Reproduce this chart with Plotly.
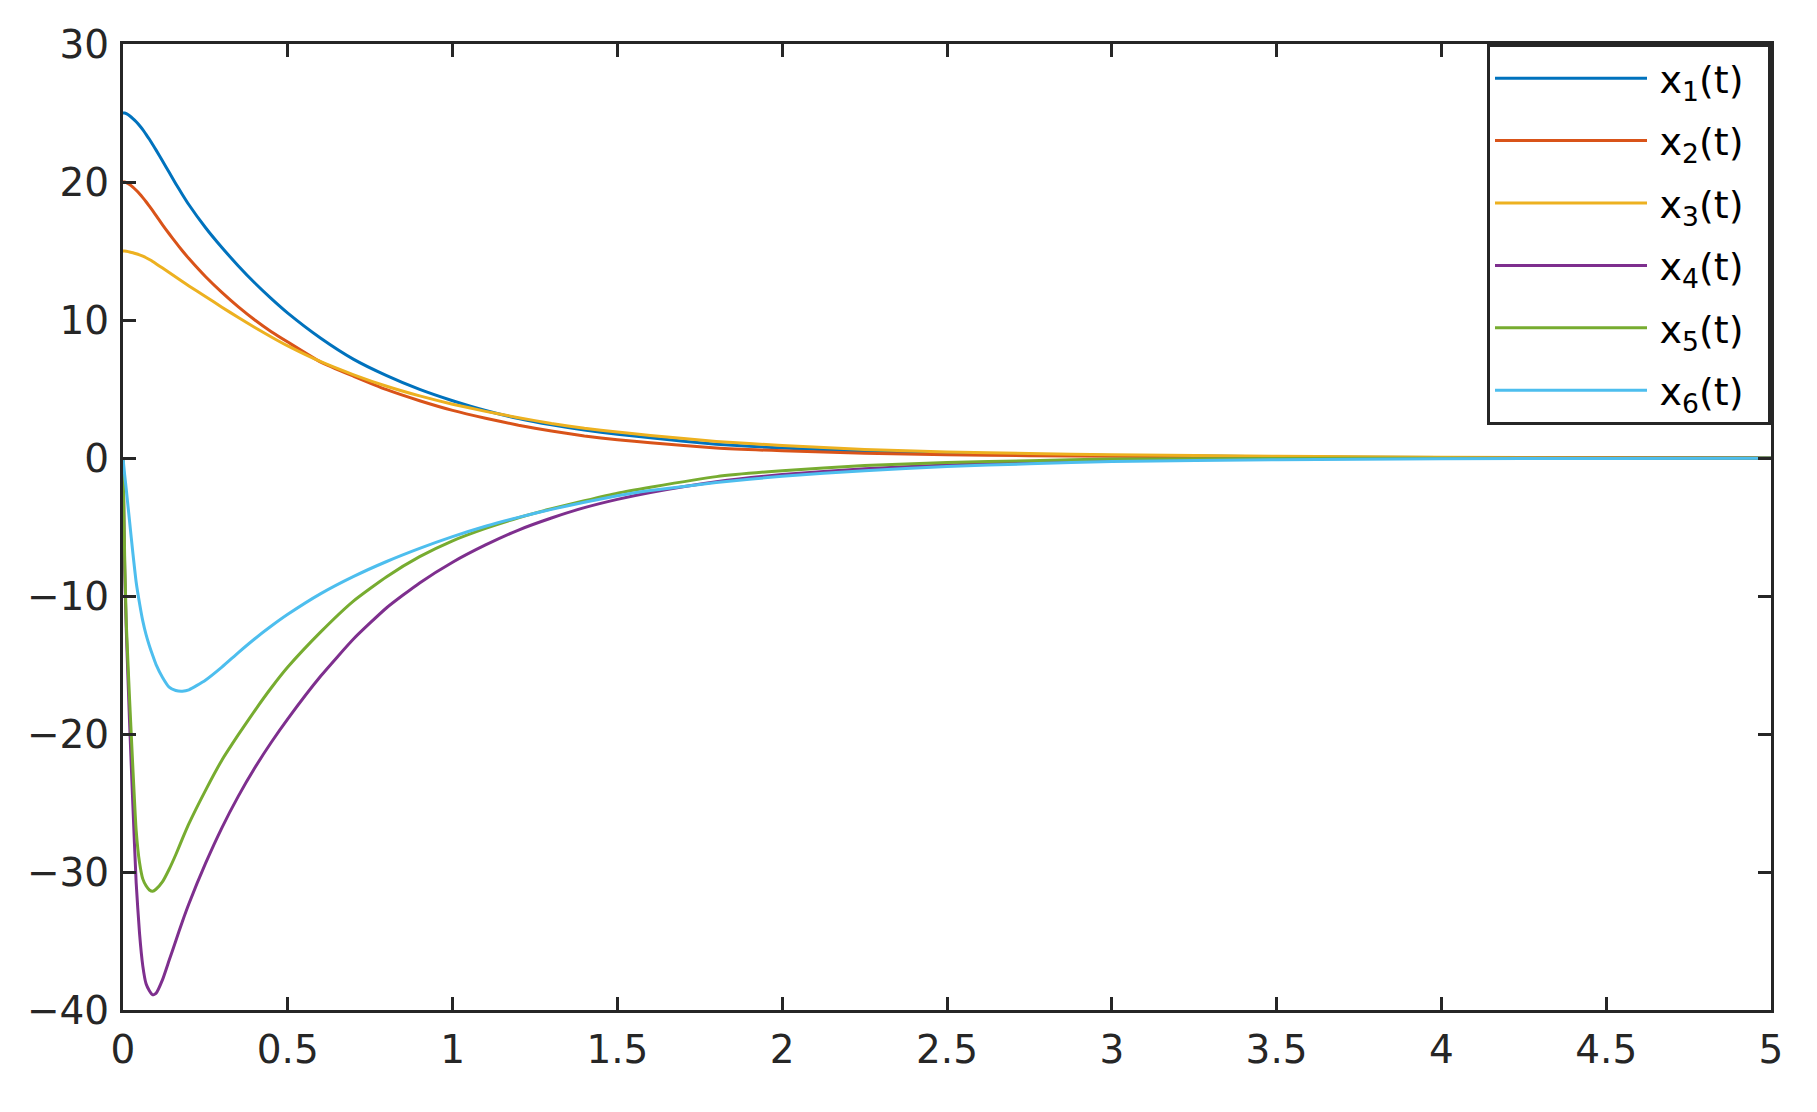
import plotly.graph_objects as go

# time grid (s)
t = [0, 0.005, 0.01, 0.02, 0.03, 0.04, 0.05, 0.06, 0.07, 0.08, 0.09, 0.1,
     0.12, 0.14, 0.16, 0.18, 0.2, 0.25, 0.3, 0.35, 0.4, 0.45, 0.5, 0.6, 0.7,
     0.8, 0.9, 1.0, 1.1, 1.2, 1.3, 1.4, 1.5, 1.6, 1.8, 2.0, 2.25, 2.5, 2.75,
     3.0, 3.5, 4.0, 4.5, 5.0]

x1 = [25, 25, 24.95, 24.8, 24.6, 24.37, 24.1, 23.8, 23.45, 23.1, 22.72, 22.33,
      21.52, 20.7, 19.88, 19.1, 18.35, 16.7, 15.25, 13.92, 12.68, 11.55, 10.5, 8.68, 7.15,
      5.97, 4.97, 4.15, 3.44, 2.86, 2.4, 2.02, 1.72, 1.46, 1.0, 0.72, 0.48, 0.33, 0.25,
      0.19, 0.09, 0.04, 0.015, 0.005]

x2 = [20, 20, 19.96, 19.82, 19.63, 19.4, 19.15, 18.87, 18.57, 18.25, 17.92, 17.58,
      16.9, 16.25, 15.62, 15.02, 14.45, 13.15, 12.0, 10.95, 10.0, 9.15, 8.4, 6.95, 5.92,
      4.95, 4.15, 3.45, 2.88, 2.37, 1.95, 1.6, 1.32, 1.1, 0.72, 0.52, 0.35, 0.24, 0.17,
      0.12, 0.05, 0.02, 0.01, 0.0]

x3 = [15, 15, 14.98, 14.93, 14.87, 14.8, 14.72, 14.62, 14.51, 14.38, 14.24, 14.08,
      13.76, 13.44, 13.11, 12.79, 12.47, 11.7, 10.93, 10.18, 9.46, 8.77, 8.12, 6.98, 6.03,
      5.2, 4.5, 3.9, 3.38, 2.92, 2.5, 2.15, 1.88, 1.63, 1.2, 0.9, 0.62, 0.44, 0.32,
      0.24, 0.12, 0.05, 0.02, 0.01]

x4 = [0, -8, -12.5, -19.2, -25.2, -30.8, -34.4, -36.8, -38.1, -38.6, -38.9, -38.8,
      -37.8, -36.4, -35.0, -33.6, -32.3, -29.4, -26.8, -24.5, -22.45, -20.6, -18.9, -15.8, -13.1,
      -10.85, -9.05, -7.55, -6.3, -5.22, -4.35, -3.6, -3.0, -2.5, -1.72, -1.2, -0.78, -0.5, -0.3,
      -0.16, -0.06, -0.03, -0.015, -0.005]

x5 = [0, -7.1, -12.0, -17.5, -22.5, -27.0, -29.3, -30.5, -31.0, -31.3, -31.4, -31.25,
      -30.7, -29.8, -28.75, -27.6, -26.5, -24.1, -21.9, -20.05, -18.3, -16.65, -15.15, -12.6, -10.35,
      -8.6, -7.15, -6.0, -5.1, -4.33, -3.68, -3.1, -2.55, -2.12, -1.35, -0.92, -0.55, -0.33, -0.2,
      -0.08, -0.03, -0.015, -0.01, 0.0]

x6 = [0, -1.2, -2.3, -4.6, -6.9, -9.0, -10.5, -11.8, -12.8, -13.6, -14.3, -14.95,
      -15.9, -16.6, -16.85, -16.9, -16.8, -16.1, -15.15, -14.1, -13.1, -12.18, -11.33, -9.83, -8.58,
      -7.5, -6.55, -5.7, -4.95, -4.3, -3.72, -3.2, -2.74, -2.36, -1.78, -1.32, -0.92, -0.62, -0.42,
      -0.26, -0.12, -0.06, -0.03, -0.015]

series = [x1, x2, x3, x4, x5, x6]
names = ["\u2009x<sub>1</sub>(t)\u2002", "\u2009x<sub>2</sub>(t)\u2002", "\u2009x<sub>3</sub>(t)\u2002",
         "\u2009x<sub>4</sub>(t)\u2002", "\u2009x<sub>5</sub>(t)\u2002", "\u2009x<sub>6</sub>(t)\u2002"]
colors = ["#0072BD", "#D95319", "#EDB120", "#7E2F8E", "#77AC30", "#4DBEEE"]

x_ticks = [0, 0.5, 1, 1.5, 2, 2.5, 3, 3.5, 4, 4.5, 5]
x_ticklabels = ["0", "0.5", "1", "1.5", "2", "2.5", "3", "3.5", "4", "4.5", "5"]
y_ticks = [-40, -30, -20, -10, 0, 10, 20, 30]
y_ticklabels = ["\u221240", "\u221230", "\u221220", "\u221210", "0", "10", "20", "30"]

fig = go.Figure()
for i, (ys, nm, col) in enumerate(zip(series, names, colors)):
    fig.add_trace(go.Scatter(
        x=t, y=ys, mode="lines", name=nm, legendgroup=f"g{i}",
        line=dict(color=col, width=3, shape="spline", smoothing=0.5),
    ))

axis_common = dict(
    showline=True, linecolor="#262626", linewidth=3, mirror="allticks",
    ticks="inside", ticklen=13, tickwidth=3, tickcolor="#262626",
    showgrid=False, zeroline=False, automargin=False,
    tickfont=dict(family="DejaVu Sans", size=39, color="#262626"),
)

fig.update_xaxes(range=[0, 5], tickvals=x_ticks, ticktext=x_ticklabels,
                 ticklabelstandoff=3, **axis_common)
fig.update_yaxes(range=[-40, 30], tickvals=y_ticks, ticktext=y_ticklabels,
                 ticklabelstandoff=3, **axis_common)

# page body adds an 8px margin, so the figure is sized to fit the window
fig.update_layout(
    width=1809, height=1104,
    margin=dict(l=115, r=46, t=36, b=102),
    paper_bgcolor="white", plot_bgcolor="white",
    showlegend=True,
    legend=dict(
        x=1, y=1, xanchor="right", yanchor="top",
        bgcolor="white", bordercolor="#262626", borderwidth=3,
        font=dict(family="DejaVu Sans", size=38, color="#000000"),
        itemwidth=152, tracegroupgap=10,
    ),
)

fig.write_html("out.html")
